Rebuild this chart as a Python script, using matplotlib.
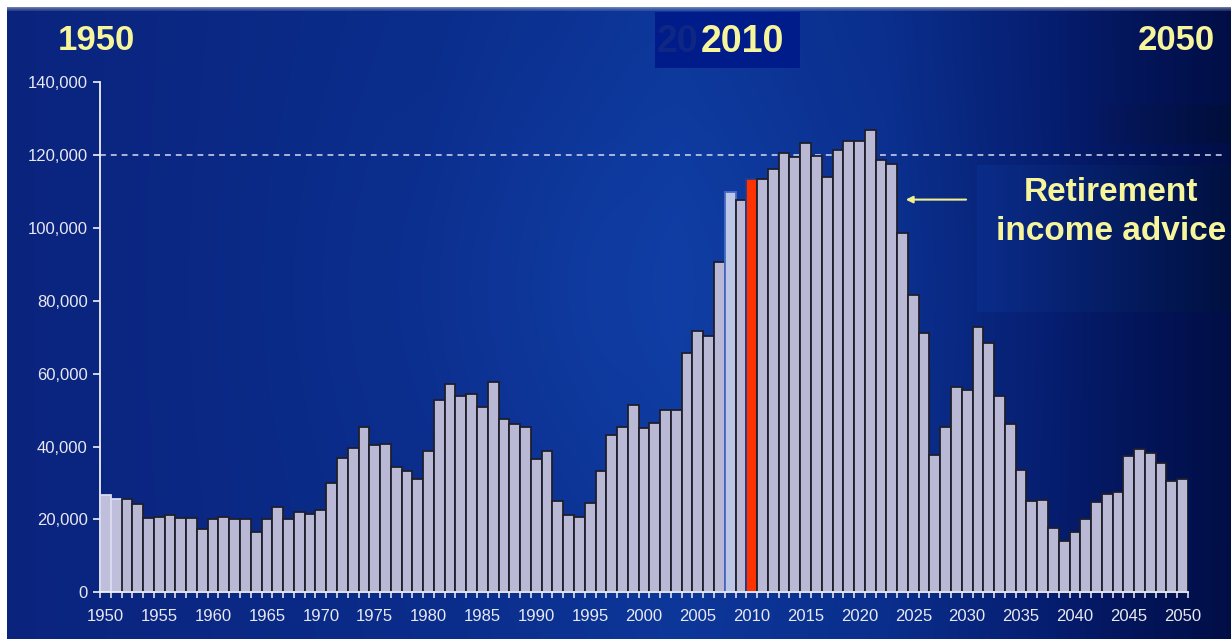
import numpy as np
import matplotlib
matplotlib.use("Agg")
import matplotlib.pyplot as plt
from matplotlib.ticker import FuncFormatter

plt.rcParams['font.family'] = ['Liberation Sans', 'DejaVu Sans']

# Annual counts, 1950-2050
years = list(range(1950, 2051))
counts = [
    26800, 25700, 25700, 24300, 20300, 20700, 21200, 20300, 20300, 17500,   # 1950s
    20100, 20700, 20100, 20100, 16500, 20100, 23500, 20100, 22100, 21600,   # 1960s
    22700, 29900, 36800, 39500, 45400, 40300, 40700, 34500, 33300, 31000,   # 1970s
    38700, 52800, 57200, 53900, 54300, 50800, 57600, 47700, 46200, 45400,   # 1980s
    36700, 38700, 25100, 21100, 20700, 24400, 33300, 43100, 45400, 51500,   # 1990s
    45000, 46500, 50100, 50100, 65600, 71800, 70400, 90600, 109900, 107700, # 2000s
    113500, 113500, 116300, 120600, 119500, 123300, 119900, 114100, 121500, 123800,  # 2010s
    123800, 127000, 118600, 117600, 98500, 81700, 71100, 37600, 45400, 56300,  # 2020s
    55500, 72700, 68400, 53800, 46100, 33600, 25100, 25400, 17600, 14100,   # 2030s
    16500, 20100, 24700, 27000, 27400, 37500, 39400, 38200, 35500, 30500,   # 2040s
    31200,                                                                  # 2050
]
current_year = 2010
previous_year = 2008
threshold = 120000
y_ticks = [0, 20000, 40000, 60000, 80000, 100000, 120000, 140000]
x_labels = list(range(1950, 2051, 5))

W, H = 1231, 639
fig = plt.figure(figsize=(W / 100, H / 100), dpi=100)

# ---- slide background: blue gradient with a lighter centre and dark right edge
bg = fig.add_axes([0, 0, 1, 1], zorder=-10)
bg.set_axis_off()
xx, yy = np.meshgrid(np.linspace(0, 1, W), np.linspace(0, 1, H))
stops_x = [0.0, 0.35, 0.55, 0.72, 0.85, 0.93, 1.0]
stops_r = [10, 10, 12, 10, 6, 3, 1]
stops_g = [36, 44, 54, 46, 30, 20, 14]
stops_b = [126, 138, 152, 140, 112, 88, 70]
r = np.interp(xx, stops_x, stops_r)
g = np.interp(xx, stops_x, stops_g)
b = np.interp(xx, stops_x, stops_b)
glow = np.exp(-(((xx - 0.52) / 0.22) ** 2 + ((yy - 0.45) / 0.35) ** 2))
r = r + 4 * glow
g = g + 8 * glow
b = b + 12 * glow
img = np.dstack([r, g, b]) / 255.0
img = np.clip(img, 0, 1)
# white slide border at top and left
img[0:7, :, :] = 1.0
for i, c in enumerate([0.75, 0.55, 0.38, 0.25]):
    img[7 + i, :, :] = img[7 + i, :, :] * (1 - c) + np.array([0.55, 0.6, 0.75]) * c
img[:, 0:7, :] = 1.0


def box_gradient(x0, x1, y0, y1, left, right):
    cols = np.linspace(0, 1, x1 - x0)[None, :, None]
    lc = np.array(left)[None, None, :] / 255.0
    rc = np.array(right)[None, None, :] / 255.0
    img[y0:y1, x0:x1, :] = lc * (1 - cols) + rc * cols


# darker panels behind the headline year and the annotation
box_gradient(655, 800, 12, 68, (0, 28, 138), (0, 28, 138))
box_gradient(977, W, 165, 312, (10, 44, 138), (0, 16, 64))
box_gradient(1098, W, 105, 143, (6, 24, 96), (0, 14, 58))

bg.imshow(img, extent=[0, W, H, 0], aspect='auto', interpolation='bilinear')
bg.set_xlim(0, W)
bg.set_ylim(H, 0)

# ---- bar chart
ax = fig.add_axes([100 / W, (H - 592.3) / H, 1088 / W, 510 / H])
ax.patch.set_alpha(0)

face = []
edge = []
for yr in years:
    if yr == current_year:
        face.append('#ff3300')
        edge.append('#2a3a8a')
    elif yr == previous_year:
        face.append('#bcc7e6')
        edge.append('#4a68c8')
    elif yr < 1952:
        face.append('#bfbfdc')
        edge.append('#dcdcf0')
    else:
        face.append('#b9b9d6')
        edge.append('#1e1e2c')

ax.bar(years, counts, width=1.0, color=face, edgecolor=edge, linewidth=1.3, zorder=3)

ax.set_xlim(years[0] - 0.5, years[-1] + 0.5)
ax.set_ylim(0, 140000)

for s in ['top', 'right']:
    ax.spines[s].set_visible(False)
for s in ['left', 'bottom']:
    ax.spines[s].set_color('#f0f0f8')
    ax.spines[s].set_linewidth(1.3)
ax.spines['bottom'].set_zorder(4)

ax.set_yticks(y_ticks)
ax.yaxis.set_major_formatter(FuncFormatter(lambda v, p: f"{int(v):,}"))
ax.tick_params(axis='y', colors='#f0f0f8', labelcolor='#e8e8f2', length=5,
               width=1.2, direction='out', pad=4, labelsize=12)

ax.set_xticks(x_labels)
ax.set_xticklabels([str(v) for v in x_labels])
ax.set_xticks(np.arange(years[0] - 0.5, years[-1] + 1.0, 1.0), minor=True)
ax.tick_params(axis='x', which='major', length=0, pad=12, labelsize=12,
               labelcolor='#e8e8f2')
ax.tick_params(axis='x', which='minor', length=4, width=1.1, color='#f0f0f8',
               direction='out')

# reference line at 120,000 extending past the plot area
ax.axhline(threshold, xmin=0, xmax=1.031, color='#c6cde8', lw=1.2,
           ls=(0, (3.5, 3)), clip_on=False, zorder=2)

# arrow pointing at the peak
ax.annotate('', xy=(2024.3, 107800), xytext=(2029.9, 107800),
            arrowprops=dict(arrowstyle='-|>', color='#f2f08a', lw=1.5,
                            mutation_scale=10, shrinkA=0, shrinkB=0),
            zorder=5)

# ---- headline text
yellow = '#f7f59c'


def px_text(x, y, s, **kw):
    fig.text(x / W, 1 - y / H, s, **kw)


px_text(96, 40, '1950', ha='center', va='center', fontsize=25,
        fontweight='bold', color=yellow)
px_text(1176, 40, '2050', ha='center', va='center', fontsize=25,
        fontweight='bold', color=yellow)
px_text(678, 42, '20', ha='center', va='center', fontsize=27,
        fontweight='bold', color='#0e2784', zorder=1)
px_text(742, 42, '2010', ha='center', va='center', fontsize=27,
        fontweight='bold', color=yellow, zorder=2)
px_text(1111, 193, 'Retirement', ha='center', va='center', fontsize=24,
        fontweight='bold', color=yellow)
px_text(1111, 231, 'income advice', ha='center', va='center', fontsize=24,
        fontweight='bold', color=yellow)

fig.savefig('out.png', dpi=100)
